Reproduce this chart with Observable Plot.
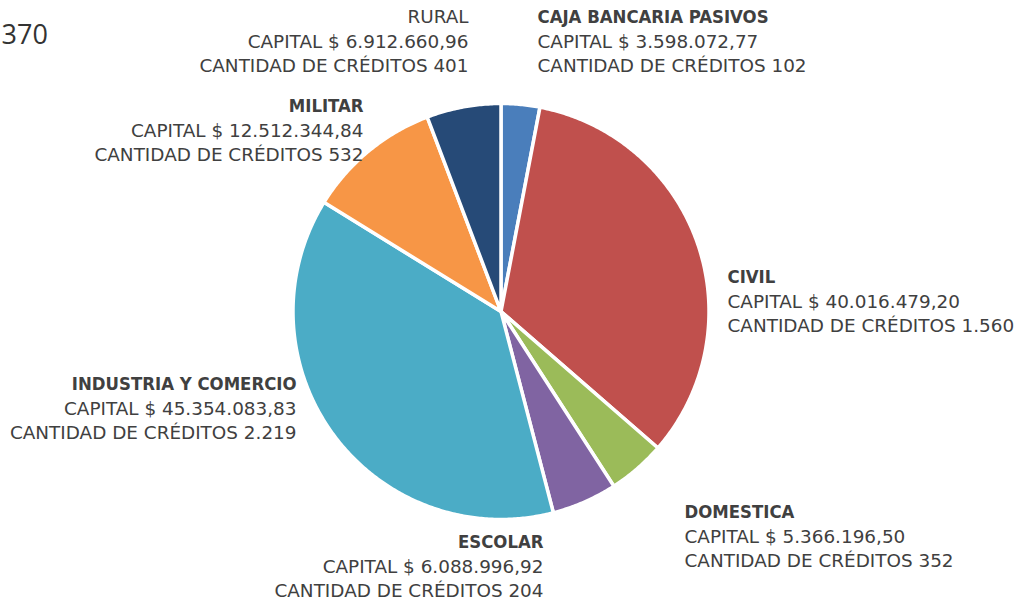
<!DOCTYPE html>
<html>
<head>
<meta charset="utf-8">
<script src="https://cdn.jsdelivr.net/npm/d3@7"></script>
<script src="https://cdn.jsdelivr.net/npm/@observablehq/plot@0.6"></script>
<style>
  html, body { margin: 0; padding: 0; background: #ffffff; }
  #chart svg { display: block; }
</style>
</head>
<body>
<div id="chart"></div>
<script>
// ---- data ----
const categories = ["CAJA BANCARIA PASIVOS", "CIVIL", "DOMESTICA", "ESCOLAR", "INDUSTRIA Y COMERCIO", "MILITAR", "RURAL"];
const capital = [3598072.77, 40016479.20, 5366196.50, 6088996.92, 45354083.83, 12512344.84, 6912660.96];
const credits = [102, 1560, 352, 204, 2219, 532, 401];
const colors = ["#4a7ebb", "#c0504d", "#9bbb59", "#8064a2", "#4bacc6", "#f79646", "#264a77"];
const titleFragment = "370";

// ---- layout (pixels) ----
const W = 1028, H = 602;
const cx = 500.5, cy = 311, R = 208;
const labelLayout = [
  {anchor: "start", px: 537, py: 17, bold: true},   // CAJA
  {anchor: "start", px: 727, py: 277, bold: true},  // CIVIL
  {anchor: "start", px: 684, py: 512, bold: true},  // DOMESTICA
  {anchor: "end",   px: 543, py: 542, bold: true},  // ESCOLAR
  {anchor: "end",   px: 296, py: 384, bold: true},  // INDUSTRIA
  {anchor: "end",   px: 363, py: 106, bold: true},  // MILITAR
  {anchor: "end",   px: 468, py: 17, bold: false}   // RURAL
];
const lineGap = 24.5;

const loc = d3.formatLocale({decimal: ",", thousands: ".", grouping: [3], currency: ["$ ", ""]});
const fmtMoney = loc.format(",.2f");
const fmtInt = loc.format(",d");

// ---- pie geometry from values ----
const total = d3.sum(capital);
const slices = [];
let acc = 0;
categories.forEach((name, i) => {
  const a0 = acc / total * 2 * Math.PI;
  acc += capital[i];
  const a1 = acc / total * 2 * Math.PI;
  const n = Math.max(2, Math.ceil((a1 - a0) / (Math.PI / 360)));
  slices.push({name, x: 0, y: 0});
  for (let k = 0; k <= n; k++) {
    const a = a0 + (a1 - a0) * k / n;
    slices.push({name, x: Math.sin(a), y: Math.cos(a)});
  }
  slices.push({name, x: 0, y: 0});
});

// label rows in data units
const toX = px => (px - cx) / R;
const toY = py => (cy - py) / R;
const labels = categories.map((name, i) => ({
  name,
  anchor: labelLayout[i].anchor,
  bold: labelLayout[i].bold,
  x: toX(labelLayout[i].px),
  y1: toY(labelLayout[i].py),
  y2: toY(labelLayout[i].py + lineGap),
  y3: toY(labelLayout[i].py + 2 * lineGap),
  l2: "CAPITAL " + "$ " + fmtMoney(capital[i]),
  l3: "CANTIDAD DE CRÉDITOS " + fmtInt(credits[i])
}));

const textColor = "#404040";
const regFont = "DejaVu Sans";
const boldFont = "DejaVu Sans Condensed";
const fs = 18.4;

function textMarks(anchor) {
  const d = labels.filter(l => l.anchor === anchor);
  return [
    Plot.text(d.filter(l => l.bold), {x: "x", y: "y1", text: "name", textAnchor: anchor, fontWeight: "bold", fontFamily: boldFont, fontSize: fs, fill: textColor}),
    Plot.text(d.filter(l => !l.bold), {x: "x", y: "y1", text: "name", textAnchor: anchor, fontFamily: regFont, fontSize: fs, fill: textColor}),
    Plot.text(d, {x: "x", y: "y2", text: "l2", textAnchor: anchor, fontFamily: regFont, fontSize: fs, fill: textColor}),
    Plot.text(d, {x: "x", y: "y3", text: "l3", textAnchor: anchor, fontFamily: regFont, fontSize: fs, fill: textColor})
  ];
}

const chart = Plot.plot({
  width: W,
  height: H,
  margin: 0,
  style: {background: "#ffffff", overflow: "hidden"},
  x: {domain: [-cx / R, (W - cx) / R], range: [0, W], axis: null},
  y: {domain: [(cy - H) / R, cy / R], range: [H, 0], axis: null},
  color: {domain: categories, range: colors},
  marks: [
    Plot.line(slices, {x: "x", y: "y", z: "name", fill: "name", stroke: "#ffffff", strokeWidth: 3.5, strokeLinejoin: "round", curve: "linear"}),
    ...textMarks("start"),
    ...textMarks("end"),
    Plot.text([titleFragment], {x: toX(1), y: toY(35), text: d => d, textAnchor: "start", fontFamily: "Open Sans", fontSize: 27, fill: "#333333"})
  ]
});
document.getElementById("chart").appendChild(chart);
</script>
</body>
</html>
